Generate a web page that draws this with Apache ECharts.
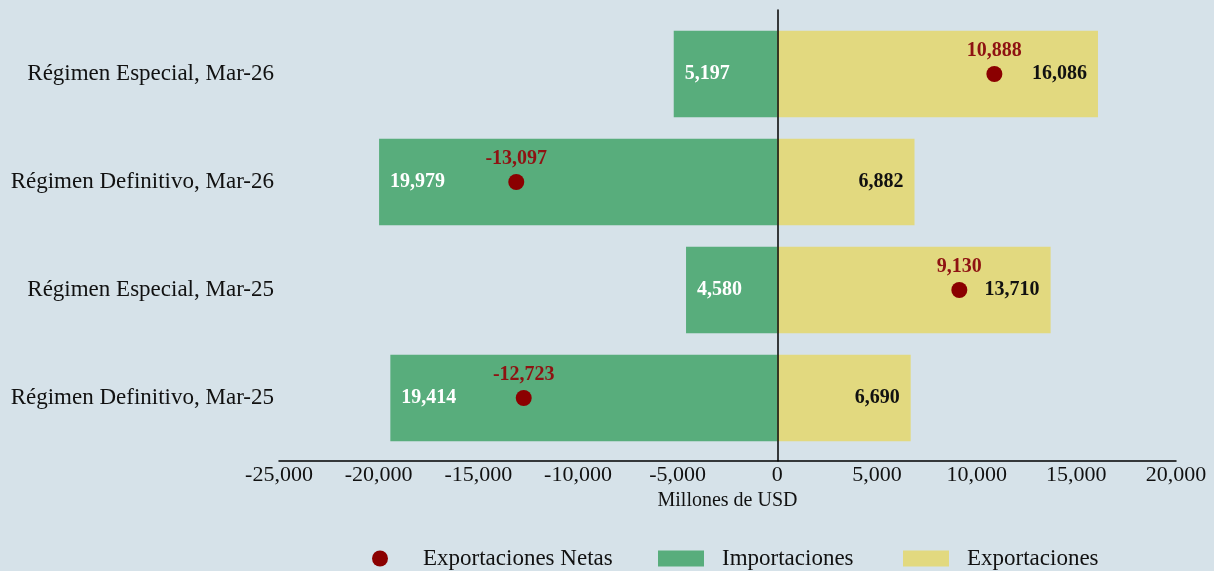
<!DOCTYPE html>
<html>
<head>
<meta charset="utf-8">
<script src="https://cdn.jsdelivr.net/npm/echarts@6/dist/echarts.min.js"></script>
<style>
  html, body { margin: 0; padding: 0; background: #d6e2e9; }
  #chart { width: 1214px; height: 571px; }
</style>
</head>
<body>
<div id="chart"></div>
<script>
// Categories listed top to bottom
const categories = [
  'Régimen Especial, Mar-26',
  'Régimen Definitivo, Mar-26',
  'Régimen Especial, Mar-25',
  'Régimen Definitivo, Mar-25'
];
// Millones de USD
const importaciones = [-5197, -19979, -4580, -19414];
const exportaciones = [16086, 6882, 13710, 6690];
const exportacionesNetas = [10888, -13097, 9130, -12723];

const xTicks = { min: -25000, max: 20000, interval: 5000 };

const fmt = v => Math.abs(v).toLocaleString('en-US');
const fmtSigned = v => (v < 0 ? '-' : '') + Math.abs(v).toLocaleString('en-US');

const serif = '"Liberation Serif", "Times New Roman", serif';
const green = '#58ad7c';
const yellow = '#e2d97f';
const red = '#8b0000';
const redText = '#8e1212';
const ink = '#111';

// one legend block per entry so each icon and text gap can be set
function legendBlock(name, icon, left, w, h, gap) {
  return {
    left: left,
    top: 547,
    padding: 0,
    itemWidth: w,
    itemHeight: h,
    icon: icon,
    data: [name],
    formatter: n => '{t|' + n + '}',
    textStyle: {
      rich: { t: { fontFamily: serif, fontSize: 23, color: ink, lineHeight: 24, padding: [0, 0, 0, gap] } }
    }
  };
}

const chart = echarts.init(document.getElementById('chart'));

chart.setOption({
  backgroundColor: '#d6e2e9',
  textStyle: { fontFamily: serif },
  grid: [
    { left: 279, right: 38, top: 20, height: 432 },
    { left: 279, right: 38, top: 10, height: 451 }
  ],
  xAxis: [
    {
      gridIndex: 0,
      type: 'value',
      min: xTicks.min, max: xTicks.max, interval: xTicks.interval,
      offset: 9,
      name: 'Millones de USD',
      nameLocation: 'middle',
      nameGap: 29,
      nameTextStyle: { fontFamily: serif, fontSize: 20, color: ink },
      axisLine: { show: true, onZero: false, lineStyle: { color: '#000', width: 1.5 } },
      axisTick: { show: false },
      axisLabel: {
        fontFamily: serif, fontSize: 22, color: ink, margin: 3,
        formatter: v => fmtSigned(v)
      },
      splitLine: { show: false }
    },
    {
      gridIndex: 1,
      type: 'value',
      min: xTicks.min, max: xTicks.max,
      axisLine: { show: false },
      axisTick: { show: false },
      axisLabel: { show: false },
      splitLine: { show: false }
    }
  ],
  yAxis: [
    {
      gridIndex: 0,
      type: 'category',
      inverse: true,
      data: categories,
      axisLine: { show: false },
      axisTick: { show: false },
      axisLabel: { fontFamily: serif, fontSize: 23, color: ink, margin: 5 },
      splitLine: { show: false }
    },
    {
      // zero reference line spanning the plot
      gridIndex: 1,
      type: 'value',
      min: 0, max: 1,
      z: 4,
      axisLine: { show: true, onZero: true, lineStyle: { color: '#000', width: 1.5 } },
      axisTick: { show: false },
      axisLabel: { show: false },
      splitLine: { show: false }
    }
  ],
  legend: [
    legendBlock('Exportaciones Netas', 'circle', 372, 16, 16, 30),
    legendBlock('Importaciones', 'rect', 658, 46, 16, 13),
    legendBlock('Exportaciones', 'rect', 903, 46, 16, 13)
  ],
  series: [
    {
      name: 'Importaciones',
      type: 'bar',
      xAxisIndex: 0, yAxisIndex: 0,
      data: importaciones,
      barWidth: '80%',
      barGap: '-100%',
      itemStyle: { color: green },
      label: {
        show: true, position: 'insideLeft', distance: 11,
        fontFamily: serif, fontSize: 20, fontWeight: 'bold', color: '#fff',
        formatter: p => fmt(p.value)
      }
    },
    {
      name: 'Exportaciones',
      type: 'bar',
      xAxisIndex: 0, yAxisIndex: 0,
      data: exportaciones,
      barWidth: '80%',
      barGap: '-100%',
      itemStyle: { color: yellow },
      label: {
        show: true, position: 'insideRight', distance: 11,
        fontFamily: serif, fontSize: 20, fontWeight: 'bold', color: ink,
        formatter: p => fmt(p.value)
      }
    },
    {
      name: 'Exportaciones Netas',
      type: 'scatter',
      xAxisIndex: 0, yAxisIndex: 0,
      data: exportacionesNetas,
      symbol: 'circle',
      symbolSize: 16,
      itemStyle: { color: red, opacity: 1 },
      z: 5,
      label: {
        show: true, position: 'top', distance: 5,
        fontFamily: serif, fontSize: 20, fontWeight: 'bold', color: redText,
        formatter: p => fmtSigned(p.value)
      }
    }
  ]
});
</script>
</body>
</html>
